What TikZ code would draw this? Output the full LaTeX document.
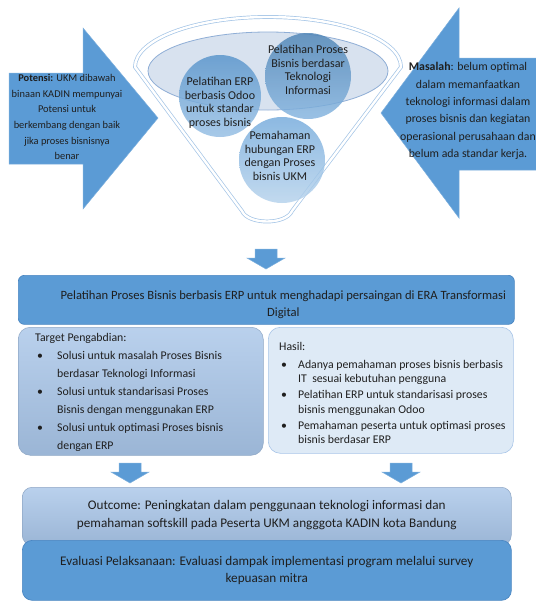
\documentclass[tikz,border=0pt]{standalone}
\usepackage{fontspec}
\setmainfont{Carlito}
\usetikzlibrary{positioning}

\definecolor{accent}{HTML}{5B9BD5}
\definecolor{accentdk}{HTML}{4A86C2}
\definecolor{accentmd}{HTML}{A8C5E8}
\definecolor{accentlt}{HTML}{DEEAF6}
\definecolor{rim}{HTML}{A3C4E6}
\definecolor{mouthfill}{HTML}{D8E2EF}
\definecolor{mouthline}{HTML}{8FAED6}
\definecolor{ink}{HTML}{1F1F1F}

\newcommand{\bul}[1]{\makebox[#1][l]{\hspace{2pt}\textbullet}}
\newcommand{\ind}[1]{\hspace*{#1}}

\tikzset{
  box/.style       = {shape=rectangle, anchor=north west, inner sep=0pt},
  darkbox/.style   = {box, fill=accent, draw=accentdk, line width=0.7pt},
  midbox/.style    = {box, top color=accentmd!80!white, bottom color=accentmd!92!black,
                      draw=accentmd!85!black, line width=0.5pt},
  lightbox/.style  = {box, fill=accentlt, draw=accentmd, line width=0.6pt},
  ball/.style      = {shape=circle, inner sep=0pt, fill opacity=0.82},
  balltext/.style  = {align=center, text=ink, text opacity=1, font=\fontsize{12}{13.5}\selectfont},
  boxtext/.style   = {align=center, text=ink, font=\fontsize{13.2}{17.5}\selectfont},
  listtext/.style  = {align=left, anchor=north west, inner sep=0pt, text=ink},
  bigarrow/.style  = {fill=accent, draw=accent!80!white, line width=0.5pt},
  funnelrim/.style = {draw=rim, line width=0.7pt, double=white, double distance=2.4pt},
  pics/downblock/.style = {code={
      \draw[bigarrow] (-11,0) -- (11,0) -- (11,9) -- (19,9) -- (0,20)
        -- (-19,9) -- (-11,9) -- cycle;}}
}

\begin{document}
\begin{tikzpicture}[x=1pt, y=-1pt, font=\fontsize{11.8}{14}\selectfont]
  \useasboundingbox (0,0) rectangle (536,603);

  % block arrows pointing into the funnel
  \draw[bigarrow] (9,73) -- (83,73) -- (83,28) -- (158,118) -- (83,209) -- (83,164) -- (9,164) -- cycle;
  \draw[bigarrow] (537,58) -- (459,58) -- (459,8) -- (381,113) -- (459,218) -- (459,170) -- (537,170) -- cycle;
  \node[align=center, text=ink, font=\fontsize{10.4}{15.6}\selectfont] (potensi) at (67,117)
    {\textbf{Potensi:} UKM dibawah\\binaan KADIN mempunyai\\Potensi untuk\\berkembang dengan baik\\jika proses bisnisnya\\benar};
  \node[align=center, text=ink, font=\fontsize{11.8}{17.4}\selectfont] (masalah) at (468,111)
    {\textbf{Masalah}: belum optimal\\dalam memanfaatkan\\teknologi informasi dalam\\proses bisnis dan kegiatan\\operasional perusahaan dan\\belum ada standar kerja.};

  % funnel
  \draw[funnelrim, fill=white] (135,67) arc[start angle=180, end angle=360, x radius=133, y radius=50]
    -- (292,211) .. controls (286,225) and (248,225) .. (242,211) -- cycle;
  \draw[fill=mouthfill, draw=mouthline, line width=0.8pt] (268,71) ellipse [x radius=120, y radius=39];
  \node[ball, top color=accent!95!black, bottom color=accent!65!white, minimum size=82pt,
        label={[balltext, yshift=-7pt]center:{Pelatihan ERP\\berbasis Odoo\\untuk standar\\proses bisnis}}] (odoo) at (220,96) {};
  \node[ball, top color=accent!85!black, bottom color=accent!75!white, minimum size=86pt,
        label={[balltext, yshift=6pt]center:{Pelatihan Proses\\Bisnis berdasar\\Teknologi\\Informasi}}] (teknologi) at (308,76) {};
  \node[ball, top color=accent!85!white, bottom color=accent!45!white, minimum size=86pt,
        label={[balltext, xshift=-2pt, yshift=4pt]center:{Pemahaman\\hubungan ERP\\dengan Proses\\bisnis UKM}}] (ukm) at (282,160) {};

  \pic at (266,249) {downblock};

  % program boxes
  \node[darkbox, rounded corners=6pt, minimum width=496pt, minimum height=49pt] (title) at (18,275) {};
  \node[boxtext, font=\fontsize{12.6}{16.5}\selectfont] (titletext) at ([xshift=17pt, yshift=-5pt]title.center)
    {Pelatihan Proses Bisnis berbasis ERP untuk menghadapi persaingan di ERA Transformasi\\Digital};

  \node[midbox, rounded corners=12pt, minimum width=245pt, minimum height=128pt] (target) at (18,327) {};
  \node[listtext, font=\fontsize{11.8}{18}\selectfont] (targettext) at ([xshift=17pt, yshift=-6pt]target.north west)
    {Target Pengabdian:\\
     \bul{22pt}Solusi untuk masalah Proses Bisnis\\
     \ind{22pt}berdasar Teknologi Informasi\\
     \bul{22pt}Solusi untuk standarisasi Proses\\
     \ind{22pt}Bisnis dengan menggunakan ERP\\
     \bul{22pt}Solusi untuk optimasi Proses bisnis\\
     \ind{22pt}dengan ERP};

  \node[lightbox, rounded corners=12pt, minimum width=245pt, minimum height=126pt] (hasil) at (268,327) {};
  \node[listtext, font=\fontsize{11.8}{14.5}\selectfont] (hasiltext) at ([xshift=11pt, yshift=-15pt]hasil.north west)
    {Hasil:\\[3.5pt]
     \bul{19pt}Adanya pemahaman proses bisnis berbasis\\
     \ind{19pt}IT~ sesuai kebutuhan pengguna\\[1.5pt]
     \bul{19pt}Pelatihan ERP untuk standarisasi proses\\
     \ind{19pt}bisnis menggunakan Odoo\\[1.5pt]
     \bul{19pt}Pemahaman peserta untuk optimasi proses\\
     \ind{19pt}bisnis berdasar ERP};

  \pic at (130,463) {downblock};
  \pic at (401,463) {downblock};

  \node[midbox, rounded corners=10pt, minimum width=489pt, minimum height=58pt] (outcome) at (22,487) {};
  \node[boxtext] (outcometext) at ([yshift=1pt]outcome.center)
    {Outcome: Peningkatan dalam penggunaan teknologi informasi dan\\pemahaman softskill pada Peserta UKM angggota KADIN kota Bandung};
  \node[darkbox, rounded corners=10pt, minimum width=489pt, minimum height=60pt] (evaluasi) at (22,540) {};
  \node[boxtext] (evaluasitext) at (evaluasi.center)
    {Evaluasi Pelaksanaan: Evaluasi dampak implementasi program melalui survey\\kepuasan mitra};
\end{tikzpicture}
\end{document}
